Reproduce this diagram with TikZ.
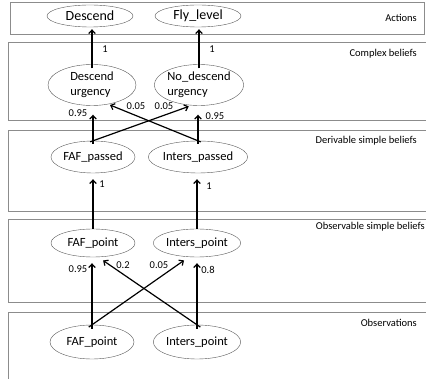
\documentclass[tikz,border=0pt]{standalone}
\usepackage{fontspec}
\setmainfont{Carlito}
\usetikzlibrary{shapes.geometric,arrows.meta}
\begin{document}
\begin{tikzpicture}[x=1pt,y=-1pt,
    belief/.style={draw=black!65,ellipse,minimum width=84pt,minimum height=30pt,inner sep=0pt,align=left,font=\fontsize{12.5}{15}\selectfont},
    layer/.style={draw=black!45,line width=0.8pt},
    tag/.style={anchor=east,inner sep=0pt,font=\fontsize{10.5}{12}\selectfont},
    prob/.style={inner sep=0pt,font=\fontsize{10.5}{12}\selectfont},
    link/.style={line width=1.2pt,-{Straight Barb[length=3.5pt,width=6.5pt]}}]
                \useasboundingbox (0,0) rectangle (426,379);
                \draw[layer] (10,2) rectangle (424,34);
                \draw[layer] (426,42) -- (8,42) -- (8,120) -- (426,120);
                \draw[layer] (426,130) -- (8,130) -- (8,211) -- (426,211);
                \draw[layer] (426,219) -- (8,219) -- (8,302) -- (426,302);
                \draw[layer] (426,312) -- (8,312) -- (8,379);
                \node[tag] (actions) at (417,18) {Actions};
                \node[tag] (complex) at (417,54) {Complex beliefs};
                \node[tag] (derivable) at (417,141) {Derivable simple beliefs};
                \node[tag] (observable) at (425,227) {Observable simple beliefs};
                \node[tag] (observations) at (417,323) {Observations};
                \node[belief,minimum width=86pt,minimum height=22pt,font=\fontsize{14}{16}\selectfont] (descend) at (90,16) {Descend};
                \node[belief,minimum width=86pt,minimum height=22pt,font=\fontsize{14}{16}\selectfont] (flylevel) at (198,16) {Fly\_level};
                \node[belief,minimum width=88pt,minimum height=41pt] (descendurg) at (92,85) {Descend\\urgency};
                \node[belief,minimum width=88pt,minimum height=41pt] (nodescendurg) at (199,85) {No\_descend\\urgency};
                \node[belief,minimum height=32pt] (fafpassed) at (93,157) {FAF\_passed};
                \node[belief,minimum height=32pt] (interspassed) at (198,157) {Inters\_passed};
                \node[belief,minimum height=28pt] (fafbelief) at (93,243) {FAF\_point};
                \node[belief,minimum height=28pt] (intersbelief) at (197,243) {Inters\_point};
                \node[belief,minimum height=34pt] (fafobs) at (92,342) {FAF\_point};
                \node[belief,minimum height=34pt] (intersobs) at (197,342) {Inters\_point};
                \draw[link,shorten <=-4pt,shorten >=2pt] (descendurg.north) -- (descendurg.north |- descend.south);
                \draw[link,shorten <=-4pt,shorten >=2pt] (nodescendurg.north) -- (nodescendurg.north |- flylevel.south);
                \draw[link,shorten <=-3pt,shorten >=9pt] (fafpassed.north) -- (fafpassed.north |- descendurg.south);
                \draw[link,shorten <=-3pt,shorten >=3pt] (fafpassed.north) -- (nodescendurg.250);
                \draw[link,shorten <=-3pt,shorten >=2pt] (interspassed.north) -- (descendurg.310);
                \draw[link,shorten <=-3pt,shorten >=9pt] (interspassed.north) -- (interspassed.north |- nodescendurg.south);
                \draw[link,shorten >=6pt] (fafbelief.north) -- (fafbelief.north |- fafpassed.south);
                \draw[link,shorten >=6pt] (intersbelief.north) -- (intersbelief.north |- interspassed.south);
                \draw[link,shorten <=-4pt,shorten >=6pt] (fafobs.north) -- (fafobs.north |- fafbelief.south);
                \draw[link,shorten <=-4pt,shorten >=6pt] (fafobs.north) -- (intersbelief.240);
                \draw[link,shorten <=-4pt,shorten >=6pt] (intersobs.north) -- (fafbelief.290);
                \draw[link,shorten <=-4pt,shorten >=6pt] (intersobs.north) -- (intersobs.north |- intersbelief.south);
                \node[prob] (pdescend) at (105,49) {1};
                \node[prob] (pfly) at (212,49) {1};
                \node[prob] (pdd) at (78,113) {0.95};
                \node[prob] (pid) at (136,106) {0.05};
                \node[prob] (pfn) at (164,106) {0.05};
                \node[prob] (pin) at (215,116) {0.95};
                \node[prob] (pfaf) at (102,184) {1};
                \node[prob] (pinters) at (209,186) {1};
                \node[prob] (pff) at (78,269) {0.95};
                \node[prob] (pif) at (123,265) {0.2};
                \node[prob] (pfi) at (159,265) {0.05};
                \node[prob] (pii) at (208,270) {0.8};
            \end{tikzpicture}
\end{document}
